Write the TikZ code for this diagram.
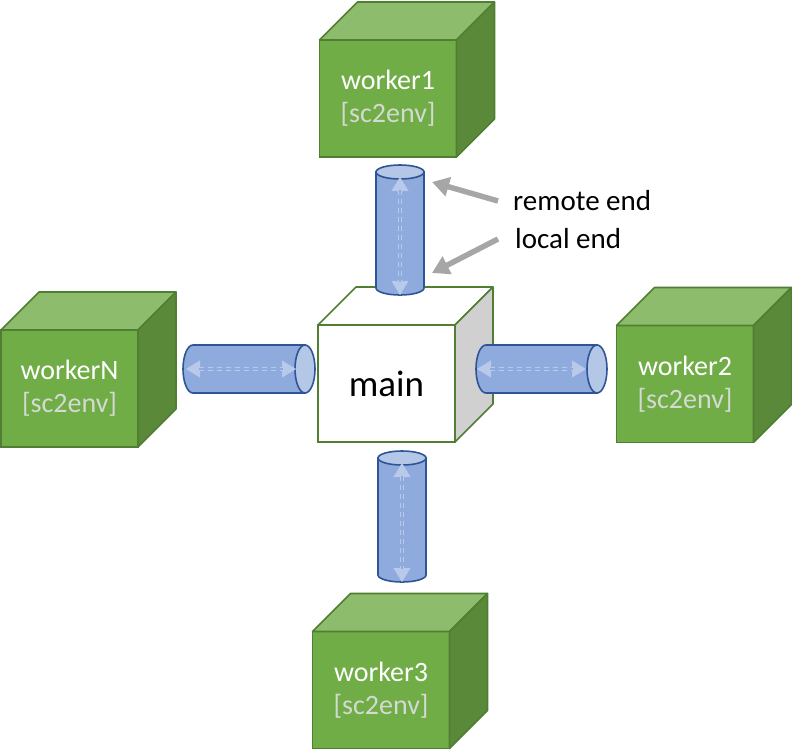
\documentclass[tikz,border=0pt]{standalone}
\usepackage{fontspec}
\setmainfont{Carlito}
\usepackage{tikz}
\usetikzlibrary{arrows.meta}
\definecolor{CubeFront}{HTML}{70AD47}
\definecolor{CubeTop}{HTML}{8DBD6C}
\definecolor{CubeSide}{HTML}{5A8A39}
\definecolor{CubeLine}{HTML}{507E32}
\definecolor{MainSide}{HTML}{D0D0D0}
\definecolor{EnvGray}{HTML}{D4D9D1}
\definecolor{PipeFill}{HTML}{8FAADC}
\definecolor{PipeEnd}{HTML}{B4C7E7}
\definecolor{PipeLine}{HTML}{2F5597}
\definecolor{FlowCol}{HTML}{B8C9E9}
\definecolor{NoteGray}{HTML}{A6A6A6}
\tikzset{
  cubefront/.style={rectangle, draw=CubeLine, line width=1.6pt, fill=CubeFront,
    minimum width=137pt, minimum height=117pt, inner sep=0pt, outer sep=0pt,
    text=white, align=center, font=\fontsize{28}{33}\selectfont},
  mainfront/.style={cubefront, fill=white, text=black, font=\fontsize{37}{40}\selectfont},
  face/.style={draw=CubeLine, line width=1.6pt, line join=round},
  pipe/.style={draw=PipeLine, line width=1.6pt, fill=PipeFill},
  pipeend/.style={draw=PipeLine, line width=1.6pt, fill=PipeEnd},
  flowtips/.style={draw=PipeFill, line width=0.1pt,
    {Triangle[width=17pt,length=14pt,color=FlowCol]}-{Triangle[width=17pt,length=14pt,color=FlowCol]}},
  flow/.style={draw=FlowCol, line width=1.6pt, double=PipeFill, double distance=1.4pt,
    dash pattern=on 5pt off 4pt, shorten <=13pt, shorten >=13pt},
  note/.style={inner sep=0pt, anchor=west, font=\fontsize{29}{32}\selectfont},
  callout/.style={draw=NoteGray, line width=5.5pt, -{Triangle[width=19pt,length=17pt]}}
}
% top and right faces of a cube standing on its front node
\newcommand{\cubefaces}[3]{
  \filldraw[face, fill=#2] (#1.north west) -- ([shift={(38,-38)}]#1.north west)
    -- ([shift={(38,-38)}]#1.north east) -- (#1.north east) -- cycle;
  \filldraw[face, fill=#3] (#1.north east) -- ([shift={(38,-38)}]#1.north east)
    -- ([shift={(38,-38)}]#1.south east) -- (#1.south east) -- cycle;
}
% lying pipe: left end, right end, middle height
\newcommand{\pipeh}[3]{
  \filldraw[pipe] (#2,#3-24) -- (#1,#3-24)
    arc[start angle=-90, end angle=-270, x radius=10, y radius=24] -- (#2,#3+24) -- cycle;
  \filldraw[pipeend] (#2,#3) ellipse[x radius=10, y radius=24];
}
% standing pipe: middle, top end, bottom end
\newcommand{\pipev}[3]{
  \filldraw[pipe] (#1-24,#2) -- (#1-24,#3)
    arc[start angle=180, end angle=0, x radius=24, y radius=7] -- (#1+24,#2) -- cycle;
  \filldraw[pipeend] (#1,#2) ellipse[x radius=24, y radius=7];
}

\begin{document}
\begin{tikzpicture}[x=1pt, y=-1pt]
\useasboundingbox (0,0) rectangle (792,750);

\node[mainfront] (main) at (386.5,383.5) {main};
\cubefaces{main}{white}{MainSide}

\node[cubefront] (w1) at (388,98.5) {worker1\\{\color{EnvGray}[sc2env]}};
\cubefaces{w1}{CubeTop}{CubeSide}
\node[cubefront] (w2) at (685,384) {worker2\\{\color{EnvGray}[sc2env]}};
\cubefaces{w2}{CubeTop}{CubeSide}
\node[cubefront] (w3) at (381,690) {worker3\\{\color{EnvGray}[sc2env]}};
\cubefaces{w3}{CubeTop}{CubeSide}
\node[cubefront] (wN) at (69.5,388.5) {workerN\\{\color{EnvGray}[sc2env]}};
\cubefaces{wN}{CubeTop}{CubeSide}

\pipev{400}{172}{288}
\pipev{402}{458}{575}
\pipeh{193}{305}{369}
\pipeh{486}{597}{369}

\coordinate (f1a) at (400,177);
\coordinate (f1b) at (400,295);
\coordinate (f3a) at (402,463);
\coordinate (f3b) at (402,582);
\coordinate (fNa) at (186,369);
\coordinate (fNb) at (296,369);
\coordinate (f2a) at (477,369);
\coordinate (f2b) at (586,369);
\foreach \a/\b in {f1a/f1b, f3a/f3b, fNa/fNb, f2a/f2b} {
  \draw[flowtips] (\a) -- (\b);
  \draw[flow] (\a) -- (\b);
}

\node[note] (remote) at (513,201) {remote end};
\node[note] (local) at (515,239) {local end};
\coordinate (rtip) at (432,182);
\coordinate (ltip) at (432,273);
\draw[callout] ([xshift=-15pt]remote.west) -- (rtip);
\draw[callout] ([xshift=-17pt]local.west) -- (ltip);

\end{tikzpicture}
\end{document}
